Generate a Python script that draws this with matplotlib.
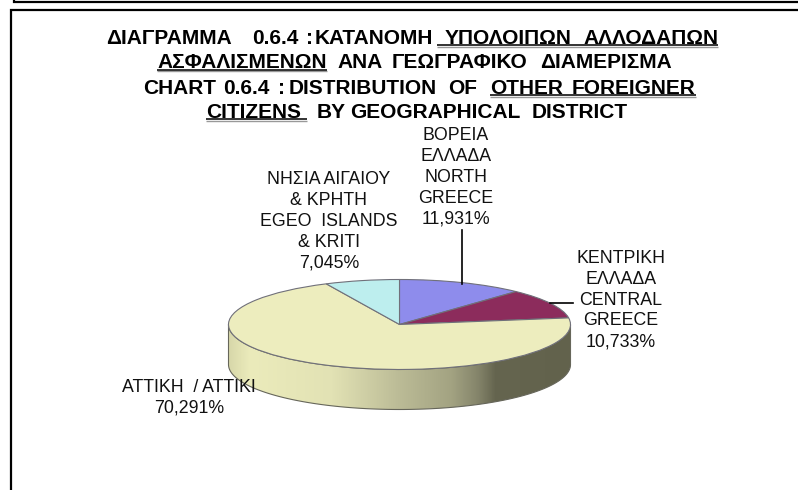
"""
Pie chart 0.6.4: other foreign insured persons by geographical district
"""

import numpy as np
import matplotlib
matplotlib.use('Agg')
import matplotlib.pyplot as plt
from matplotlib.colors import LinearSegmentedColormap
from matplotlib.patches import Polygon

plt.rcParams['font.family'] = ['Liberation Sans', 'DejaVu Sans']

W, H = 798, 490

# Data, clockwise from the top
districts = ['Βόρεια Ελλάδα', 'Κεντρική Ελλάδα', 'Αττική', 'Νησιά Αιγαίου & Κρήτη']
shares = [11.931, 10.733, 70.291, 7.045]
slice_colors = ['#8E8CEC', '#8C2C5C', '#EDEDBE', '#BDEEEE']

# Title words per line, which of them are underlined, and where each starts
title_words = [
    ['ΔΙΑΓΡΑΜΜΑ', '0.6.4', ':', 'ΚΑΤΑΝΟΜΗ', 'ΥΠΟΛΟΙΠΩΝ', 'ΑΛΛΟΔΑΠΩΝ'],
    ['ΑΣΦΑΛΙΣΜΕΝΩΝ', 'ΑΝΑ', 'ΓΕΩΓΡΑΦΙΚΟ', 'ΔΙΑΜΕΡΙΣΜΑ'],
    ['CHART', '0.6.4', ':', 'DISTRIBUTION', 'OF', 'OTHER', 'FOREIGNER'],
    ['CITIZENS', 'BY', 'GEOGRAPHICAL', 'DISTRICT'],
]
title_under = [
    [0, 0, 0, 0, 1, 1],
    [1, 0, 0, 0],
    [0, 0, 0, 0, 0, 1, 1],
    [1, 0, 0, 0],
]
title_x = [
    [106, 252, 306, 315, 445, 583],
    [157, 337, 392, 540],
    [143, 223, 278, 289, 448, 490, 572],
    [206, 317, 350, 532],
]
title_base = [43.5, 68, 93.5, 117.5]
under_pad_left = [8, 0, 0, 0]
under_pad_right = [0, 0, 0, 6]

label_north = 'ΒΟΡΕΙΑ\nΕΛΛΑΔΑ\nNORTH\nGREECE\n11,931%'
label_central = 'ΚΕΝΤΡΙΚΗ\nΕΛΛΑΔΑ\nCENTRAL\nGREECE\n10,733%'
label_attica = 'ΑΤΤΙΚΗ  / ΑΤΤΙΚΙ\n70,291%'
label_islands = 'ΝΗΣΙΑ ΑΙΓΑΙΟΥ\n& ΚΡΗΤΗ\nEGEO  ISLANDS\n& KRITI\n7,045%'

fig = plt.figure(figsize=(W / 100, H / 100), dpi=100, facecolor='white')

# Pie axes: the top ellipse spans y -1..1, the wall hangs below it
depth = 0.89
pie_ax = fig.add_axes([228.5 / W, (H - 409.5) / H, 342 / W, 130 / H])
pie_ax.pie(shares, colors=slice_colors, startangle=90, counterclock=False, radius=1,
           wedgeprops={'edgecolor': '#70707A', 'linewidth': 0.8, 'zorder': 3})

# Shaded wall under the front half
theta = np.linspace(np.pi, 2 * np.pi, 200)
wall_x = np.cos(theta)
wall_y = np.sin(theta)
wall_pts = np.vstack([np.column_stack([wall_x, wall_y - depth]),
                      np.column_stack([wall_x[::-1], wall_y[::-1]])])
wall_cmap = LinearSegmentedColormap.from_list('wall', [
    (0.00, '#D8D8AA'), (0.06, '#EBEBBB'), (0.30, '#E2E2B4'), (0.50, '#BBBB96'),
    (0.65, '#A3A382'), (0.73, '#84846A'), (0.78, '#65654F'), (1.00, '#62624C')])
gradient = np.linspace(0, 1, 256).reshape(1, -1)
wall_img = pie_ax.imshow(gradient, cmap=wall_cmap, extent=[-1, 1, -1 - depth, 0],
                         aspect='auto', zorder=1)
wall_patch = Polygon(wall_pts, closed=True, transform=pie_ax.transData,
                     facecolor='none', edgecolor='#66665A', linewidth=0.8, zorder=2)
pie_ax.add_patch(wall_patch)
wall_img.set_clip_path(wall_patch)

pie_ax.set_aspect('auto')
pie_ax.set_xlim(-1, 1)
pie_ax.set_ylim(-1 - depth, 1)
pie_ax.axis('off')
for artist in pie_ax.get_children():
    artist.set_clip_on(artist is wall_img)

# Overlay in pixel coordinates for frames, text and leader lines
ax = fig.add_axes([0, 0, 1, 1], facecolor='none')
ax.set_xlim(0, W)
ax.set_ylim(H, 0)
ax.axis('off')

# Page frames
ax.plot([14, 14, W], [0, 2.5, 2.5], color='black', lw=1.6, solid_joinstyle='miter')
ax.plot([11, 11, W], [H, 10.5, 10.5], color='black', lw=1.6, solid_joinstyle='miter')

# Title, word by word, with the underlines joined across neighbours
renderer = fig.canvas.get_renderer()
title_fs = 15

for i, (words, flags, xs, y) in enumerate(zip(title_words, title_under, title_x, title_base)):
    spans = []
    for word, flag, x in zip(words, flags, xs):
        t = ax.text(x, y, word, fontsize=title_fs, fontweight='bold', ha='left',
                    va='baseline', color='black')
        if flag:
            spans.append((x, x + t.get_window_extent(renderer).width))
    x0 = spans[0][0] - under_pad_left[i]
    x1 = spans[-1][1] + under_pad_right[i]
    ax.plot([x0, x1], [y + 3.2, y + 3.2], color='#999999', lw=1.0, solid_capstyle='butt')
    ax.plot([x0, x1], [y + 2, y + 2], color='#111111', lw=1.2, solid_capstyle='butt')

# Slice labels
label_fs = 12.8
for txt, lx, ly in [(label_north, 456, 177.5), (label_central, 621, 300),
                    (label_attica, 189, 397.5), (label_islands, 329, 221.5)]:
    ax.text(lx, ly, txt, fontsize=label_fs, ha='center', va='center', color='#111111',
            linespacing=1.3)

# Leader lines
ax.plot([462, 462], [230, 284], color='black', lw=1.2)
ax.plot([550, 573], [303, 303], color='black', lw=1.2)

fig.savefig('out.png', dpi=100)
